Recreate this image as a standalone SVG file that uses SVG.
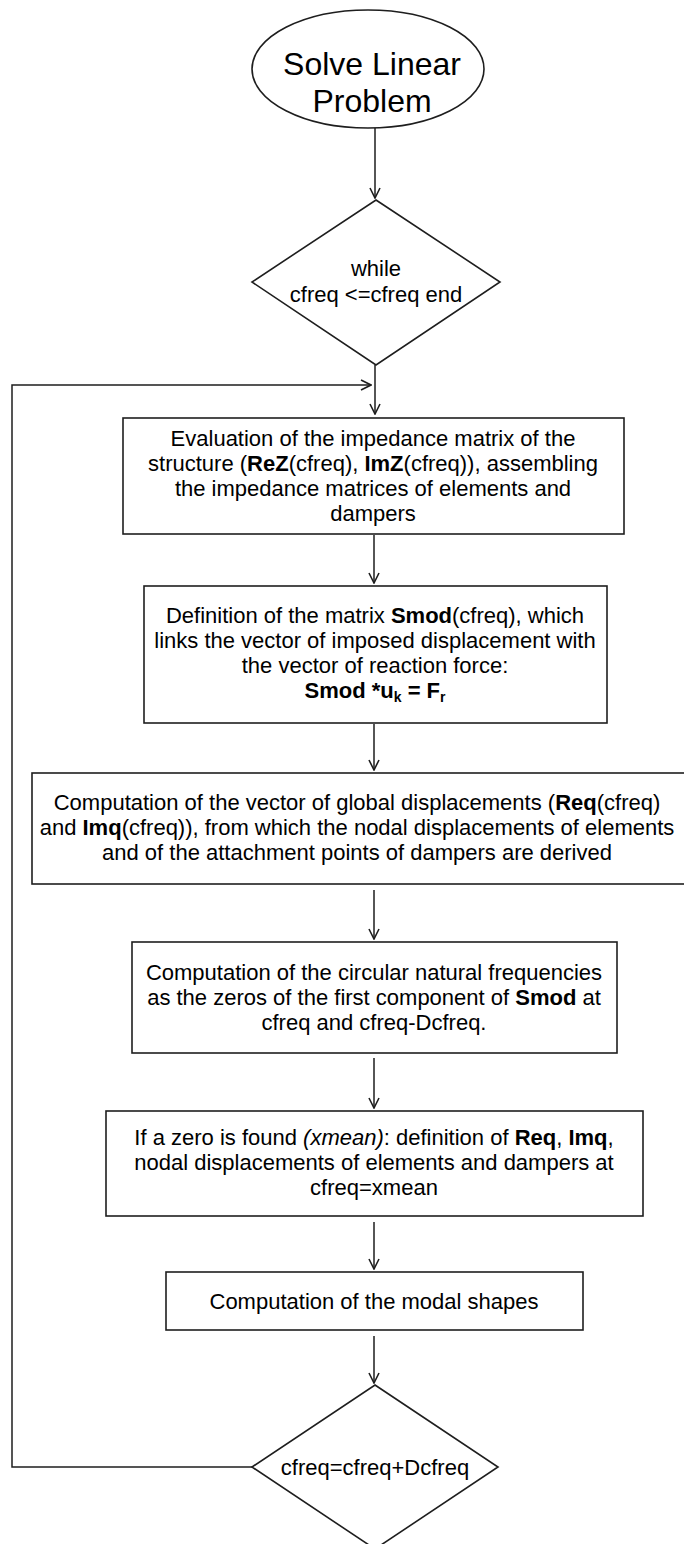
<svg xmlns="http://www.w3.org/2000/svg" width="684" height="1544" viewBox="0 0 684 1544">
  <style>
    .shape { fill: #ffffff; stroke: #1e1e1e; stroke-width: 1.6; }
    .wire { fill: none; stroke: #1e1e1e; stroke-width: 1.5; }
    text { font-family: "Liberation Sans", Arial, sans-serif; font-size: 22px; fill: #000000; text-anchor: middle; }
    .title { font-size: 32px; }
    .b { font-weight: bold; }
    .i { font-style: italic; }
    .sub { font-size: 14px; font-weight: bold; }
  </style>
  <defs>
    <marker id="arrow" viewBox="0 0 12 12" refX="11" refY="6" markerWidth="12" markerHeight="12" markerUnits="userSpaceOnUse" orient="auto">
      <path d="M1,1 L11,6 L1,11" fill="none" stroke="#1e1e1e" stroke-width="1.6"/>
    </marker>
  </defs>

  <rect width="684" height="1544" fill="#ffffff"/>

  <!-- connectors -->
  <g id="connectors">
    <line class="wire" x1="375" y1="128" x2="375" y2="198" marker-end="url(#arrow)"/>
    <line class="wire" x1="375" y1="365" x2="375" y2="414" marker-end="url(#arrow)"/>
    <polyline class="wire" points="252,1467 12,1467 12,385 371,385" marker-end="url(#arrow)"/>
    <line class="wire" x1="374" y1="535" x2="374" y2="583" marker-end="url(#arrow)"/>
    <line class="wire" x1="374" y1="724" x2="374" y2="770" marker-end="url(#arrow)"/>
    <line class="wire" x1="374" y1="890" x2="374" y2="939" marker-end="url(#arrow)"/>
    <line class="wire" x1="374" y1="1058" x2="374" y2="1108" marker-end="url(#arrow)"/>
    <line class="wire" x1="374" y1="1222" x2="374" y2="1269" marker-end="url(#arrow)"/>
    <line class="wire" x1="374" y1="1336" x2="374" y2="1383" marker-end="url(#arrow)"/>
  </g>

  <!-- start -->
  <g id="start">
    <ellipse class="shape" cx="368" cy="69" rx="116" ry="59"/>
    <text class="title" x="372" y="75">Solve Linear</text>
    <text class="title" x="372" y="112">Problem</text>
  </g>

  <!-- loop condition -->
  <g id="while">
    <polygon class="shape" points="376,200 500,282 376,365 252,282"/>
    <text x="376" y="276">while</text>
    <text x="376" y="302">cfreq &lt;=cfreq end</text>
  </g>

  <g id="impedance">
    <rect class="shape" x="123" y="418" width="501" height="116"/>
    <text x="373" y="446">Evaluation of the impedance matrix of the</text>
    <text x="373" y="471">structure (<tspan class="b">ReZ</tspan>(cfreq), <tspan class="b">ImZ</tspan>(cfreq)), assembling</text>
    <text x="373" y="496">the impedance matrices of elements and</text>
    <text x="373" y="521">dampers</text>
  </g>

  <g id="smod">
    <rect class="shape" x="144" y="586" width="463" height="137"/>
    <text x="375" y="623">Definition of the matrix <tspan class="b">Smod</tspan>(cfreq), which</text>
    <text x="375" y="648">links the vector of imposed displacement with</text>
    <text x="375" y="673">the vector of reaction force:</text>
    <text x="375" y="698" class="b">Smod *u<tspan class="sub" dy="4">k</tspan><tspan dy="-4"> = F</tspan><tspan class="sub" dy="4">r</tspan></text>
  </g>

  <g id="displacements">
    <rect class="shape" x="32" y="773" width="670" height="111"/>
    <text x="357" y="810">Computation of the vector of global displacements (<tspan class="b">Req</tspan>(cfreq)</text>
    <text x="357" y="835">and <tspan class="b">Imq</tspan>(cfreq)), from which the nodal displacements of elements</text>
    <text x="357" y="860">and of the attachment points of dampers are derived</text>
  </g>

  <g id="frequencies">
    <rect class="shape" x="132" y="942" width="485" height="111"/>
    <text x="374" y="980">Computation of the circular natural frequencies</text>
    <text x="374" y="1005">as the zeros of the first component of <tspan class="b">Smod</tspan> at</text>
    <text x="374" y="1030">cfreq and cfreq-Dcfreq.</text>
  </g>

  <g id="zero">
    <rect class="shape" x="106" y="1111" width="537" height="105"/>
    <text x="374" y="1145">If a zero is found <tspan class="i">(xmean)</tspan>: definition of <tspan class="b">Req</tspan>, <tspan class="b">Imq</tspan>,</text>
    <text x="374" y="1170">nodal displacements of elements and dampers at</text>
    <text x="374" y="1195">cfreq=xmean</text>
  </g>

  <g id="modal">
    <rect class="shape" x="166" y="1272" width="417" height="58"/>
    <text x="374" y="1309">Computation of the modal shapes</text>
  </g>

  <g id="increment">
    <polygon class="shape" points="375,1385 498,1467 375,1549 252,1467"/>
    <text x="375" y="1475">cfreq=cfreq+Dcfreq</text>
  </g>
</svg>
